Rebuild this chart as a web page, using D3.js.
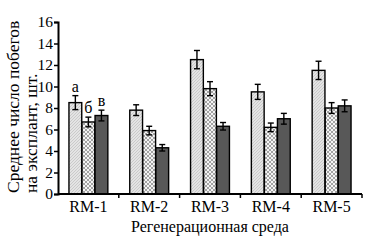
<!DOCTYPE html>
<html>
<head>
<meta charset="utf-8">
<script src="https://cdn.jsdelivr.net/npm/d3@7"></script>
<style>
  body { margin: 0; background: #fff; }
</style>
</head>
<body>
<svg></svg>
<script>
// ===== données =====
const media = ["RM-1", "RM-2", "RM-3", "RM-4", "RM-5"];
const seriesA = [8.5, 7.8, 12.5, 9.5, 11.5];
const seriesB = [6.7, 5.9, 9.8, 6.2, 8.0];
const seriesC = [7.3, 4.3, 6.3, 7.0, 8.2];
const errA = [0.65, 0.5, 0.85, 0.7, 0.85];
const errB = [0.45, 0.4, 0.65, 0.4, 0.5];
const errC = [0.5, 0.3, 0.35, 0.5, 0.55];
const letters = ["a", "б", "в"];
const yTicks = [0, 2, 4, 6, 8, 10, 12, 14, 16];

const width = 375, height = 246;
const margin = {left: 58, right: 13, top: 22, bottom: 52};
const serif = "'Liberation Serif', 'Times New Roman', serif";

const svg = d3.select("svg").attr("width", width).attr("height", height);

// motifs
const defs = svg.append("defs");
const pA = defs.append("pattern").attr("id", "pA").attr("patternUnits", "userSpaceOnUse")
  .attr("width", 3).attr("height", 3);
pA.append("rect").attr("width", 3).attr("height", 3).attr("fill", "#e4e4e4");
pA.append("path").attr("d", "M0,3 L3,0").attr("stroke", "#c4c4c4").attr("stroke-width", 0.8);

const pB = defs.append("pattern").attr("id", "pB").attr("patternUnits", "userSpaceOnUse")
  .attr("width", 4).attr("height", 4);
pB.append("rect").attr("width", 4).attr("height", 4).attr("fill", "#f4f4f4");
pB.append("path").attr("d", "M0,0 L4,4 M4,0 L0,4").attr("stroke", "#9a9a9a").attr("stroke-width", 0.9);

const fills = ["url(#pA)", "url(#pB)", "#585858"];

const x = d3.scaleBand().domain(media)
  .range([margin.left, width - margin.right]).paddingInner(0).paddingOuter(0);
const xs = d3.scaleBand().domain([0, 1, 2])
  .range([0, x.bandwidth()]).paddingInner(0.02).paddingOuter(0.84);
const y = d3.scaleLinear().domain([0, 16]).range([height - margin.bottom, margin.top]);

const series = [seriesA, seriesB, seriesC];
const errs = [errA, errB, errC];

const rows = [];
media.forEach((m, i) => series.forEach((s, k) => rows.push({m, k, v: s[i], e: errs[k][i]})));

const g = svg.append("g");

// barres
g.selectAll("rect.bar").data(rows).join("rect")
  .attr("class", "bar")
  .attr("x", d => x(d.m) + xs(d.k))
  .attr("y", d => y(d.v))
  .attr("width", xs.bandwidth())
  .attr("height", d => y(0) - y(d.v))
  .attr("fill", d => fills[d.k])
  .attr("stroke", "#000")
  .attr("stroke-width", 1.4);

// barres d'erreur
const eb = g.selectAll("g.err").data(rows).join("g").attr("class", "err")
  .attr("transform", d => `translate(${x(d.m) + xs(d.k) + xs.bandwidth() / 2},0)`)
  .attr("stroke", "#000").attr("stroke-width", 1.4);
eb.append("line").attr("y1", d => y(d.v - d.e)).attr("y2", d => y(d.v + d.e));
eb.append("line").attr("x1", -3).attr("x2", 3).attr("y1", d => y(d.v + d.e)).attr("y2", d => y(d.v + d.e));
eb.append("line").attr("x1", -3).attr("x2", 3).attr("y1", d => y(d.v - d.e)).attr("y2", d => y(d.v - d.e));

// lettres au-dessus de RM-1
g.selectAll("text.let").data(rows.filter(d => d.m === "RM-1")).join("text")
  .attr("class", "let")
  .attr("x", d => x(d.m) + xs(d.k) + xs.bandwidth() / 2)
  .attr("y", d => y(d.v + d.e) - 4)
  .attr("text-anchor", "middle")
  .style("font-family", serif)
  .attr("font-size", 16)
  .text(d => letters[d.k]);

// axe Y
const yAxis = svg.append("g").attr("transform", `translate(${margin.left},0)`)
  .call(d3.axisLeft(y).tickValues(yTicks).tickSize(4).tickPadding(1));
yAxis.selectAll("text").attr("font-size", 15.5).style("font-family", serif).attr("fill", "#000");
yAxis.select(".domain").attr("stroke-width", 2);
yAxis.selectAll(".tick line").attr("stroke-width", 1.5);

// axe X
const xAxisG = svg.append("g").attr("transform", `translate(0,${y(0)})`);
xAxisG.append("line").attr("x1", margin.left).attr("x2", width - margin.right)
  .attr("stroke", "#000").attr("stroke-width", 2);
xAxisG.selectAll("line.tk").data(media).join("line").attr("class", "tk")
  .attr("x1", d => x(d) + x.bandwidth()).attr("x2", d => x(d) + x.bandwidth())
  .attr("y1", 0).attr("y2", 4).attr("stroke", "#000").attr("stroke-width", 1.5);
xAxisG.selectAll("text").data(media).join("text")
  .attr("x", d => x(d) + x.bandwidth() / 2)
  .attr("y", 18)
  .attr("text-anchor", "middle")
  .style("font-family", serif)
  .attr("font-size", 16)
  .text(d => d);

// titres
svg.append("text")
  .attr("x", (margin.left + width - margin.right) / 2)
  .attr("y", 232)
  .attr("text-anchor", "middle")
  .style("font-family", serif)
  .attr("font-size", 16)
  .text("Регенерационная среда");

const yt = svg.append("text")
  .attr("transform", "translate(0,193) rotate(-90)")
  .style("font-family", serif)
  .attr("font-size", 17.5)
  .attr("text-anchor", "start");
yt.append("tspan").attr("x", 0).attr("y", 19).text("Среднее число побегов");
yt.append("tspan").attr("x", 0).attr("y", 37).text("на эксплант, шт.");
</script>
</body>
</html>
